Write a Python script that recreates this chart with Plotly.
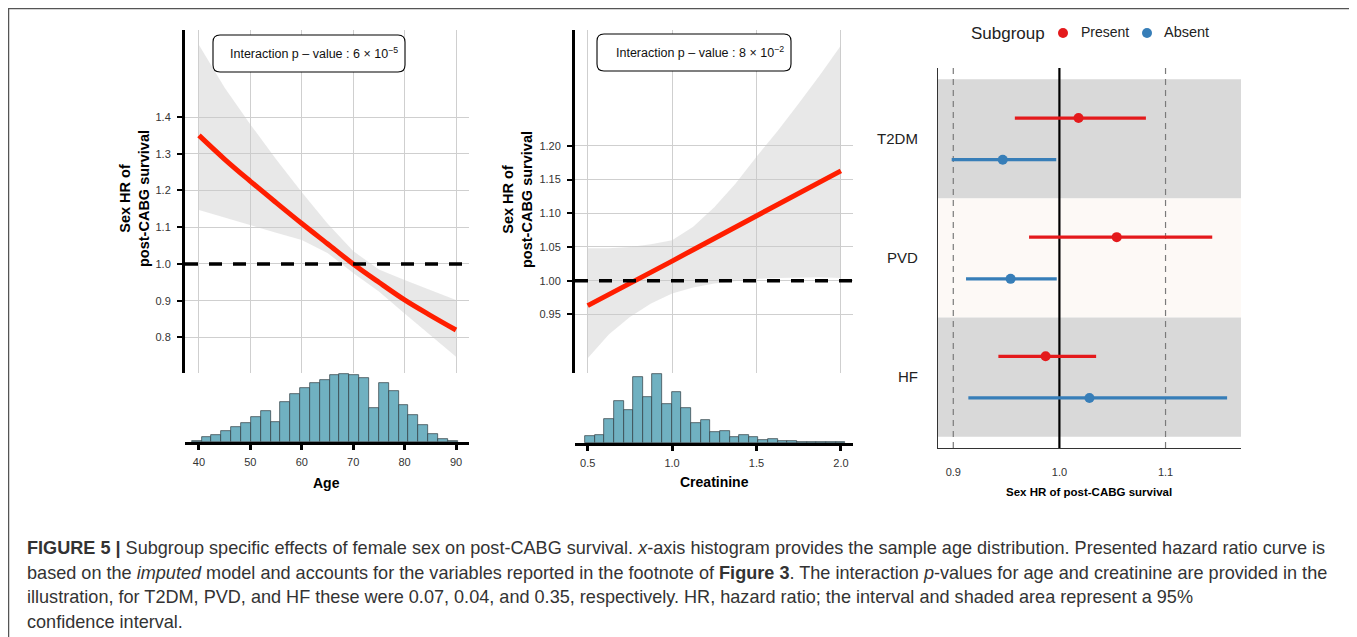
import numpy as np
import plotly.graph_objects as go

W, H = 1357, 637
OFF = 8  # page margin offset of the reference screenshot

# ---------------- data ----------------
age = [40, 45, 50, 55, 60, 65, 70, 75, 80, 85, 90]
age_hr = [1.350, 1.285, 1.225, 1.167, 1.110, 1.055, 1.000, 0.950, 0.902, 0.860, 0.820]
age_upper = [1.596, 1.48, 1.38, 1.285, 1.195, 1.11, 1.035, 0.985, 0.956, 0.93, 0.902]
age_lower = [1.147, 1.125, 1.105, 1.085, 1.065, 1.03, 0.975, 0.925, 0.865, 0.805, 0.747]

creat = [0.5, 0.625, 0.75, 0.875, 1.0, 1.125, 1.25, 1.375, 1.5, 1.625, 1.75, 1.875, 2.0]
creat_hr = [0.963, 0.979, 0.995, 1.012, 1.029, 1.046, 1.063, 1.080, 1.097, 1.113, 1.130, 1.146, 1.163]
creat_upper = [1.048, 1.048, 1.050, 1.054, 1.060, 1.080, 1.109, 1.144, 1.184, 1.222, 1.263, 1.305, 1.349]
creat_lower = [0.885, 0.920, 0.946, 0.966, 0.981, 0.990, 0.996, 1.000, 1.003, 1.004, 1.005, 1.005, 1.004]

age_bin_start, age_bin_width = 38.6, 1.915
age_counts = [3, 15, 22, 32, 44, 56, 74, 93, 59, 121, 144, 162, 179, 186, 203,
              205, 203, 193, 102, 179, 154, 113, 81, 51, 23, 8, 2]

creat_bin_start, creat_bin_width = 0.484, 0.0571
creat_counts = [20, 25, 70, 125, 98, 196, 137, 205, 117, 152, 105, 59, 67, 33, 37,
                18, 24, 17, 8, 11, 5, 7, 3, 3, 3, 2, 2]

subgroups = ["T2DM", "PVD", "HF"]
present_est = [1.018, 1.054, 0.987]
present_lo = [0.958, 0.9714, 0.9425]
present_hi = [1.0815, 1.144, 1.0346]
absent_est = [0.9466, 0.954, 1.0283]
absent_lo = [0.8985, 0.912, 0.9142]
absent_hi = [0.997, 0.9975, 1.158]

age_ticks = [40, 50, 60, 70, 80, 90]
age_hr_ticks = [0.8, 0.9, 1.0, 1.1, 1.2, 1.3, 1.4]
creat_ticks = [0.5, 1.0, 1.5, 2.0]
creat_hr_ticks = [0.95, 1.00, 1.05, 1.10, 1.15, 1.20]
forest_ticks = [0.9, 1.0, 1.1]

# ---------------- helpers ----------------
def fx(p):
    return (p - OFF) / W

def fy(p):
    return 1 - (p - OFF) / H

def bin_centers(start, width, n):
    return [start + width * (i + 0.5) for i in range(n)]

RED = "#FF1E00"
BAND = "rgba(200,200,200,0.42)"
HIST = "#70B1C1"
PRES = "#E41A1C"
ABS = "#377EB8"
FONT = "Liberation Sans, Arial, sans-serif"

fig = go.Figure()

# ---- panel 1 curve ----
fig.add_trace(go.Scatter(x=age + age[::-1], y=age_upper + age_lower[::-1], fill="toself",
                         fillcolor=BAND, line=dict(width=0), mode="lines",
                         hoverinfo="skip", showlegend=False, xaxis="x", yaxis="y"))
fig.add_trace(go.Scatter(x=age, y=age_hr, mode="lines", line=dict(color=RED, width=5, shape="spline"),
                         showlegend=False, xaxis="x", yaxis="y"))
fig.add_trace(go.Bar(x=bin_centers(age_bin_start, age_bin_width, len(age_counts)), y=age_counts,
                     width=age_bin_width, marker=dict(color=HIST, line=dict(color="#2E3B40", width=0.7)),
                     showlegend=False, xaxis="x2", yaxis="y2"))

# ---- panel 2 curve ----
fig.add_trace(go.Scatter(x=creat + creat[::-1], y=creat_upper + creat_lower[::-1], fill="toself",
                         fillcolor=BAND, line=dict(width=0), mode="lines",
                         hoverinfo="skip", showlegend=False, xaxis="x3", yaxis="y3"))
fig.add_trace(go.Scatter(x=creat, y=creat_hr, mode="lines", line=dict(color=RED, width=5),
                         showlegend=False, xaxis="x3", yaxis="y3"))
fig.add_trace(go.Bar(x=bin_centers(creat_bin_start, creat_bin_width, len(creat_counts)), y=creat_counts,
                     width=creat_bin_width, marker=dict(color=HIST, line=dict(color="#2E3B40", width=0.7)),
                     showlegend=False, xaxis="x4", yaxis="y4"))

# ---- forest plot ----
ypos = {"T2DM": 3, "PVD": 2, "HF": 1}
dodge = 0.175
fig.add_trace(go.Scatter(
    x=present_est, y=[ypos[s] + dodge for s in subgroups], mode="markers", name="Present",
    marker=dict(color=PRES, size=10),
    error_x=dict(type="data", symmetric=False,
                 array=[h - e for h, e in zip(present_hi, present_est)],
                 arrayminus=[e - l for e, l in zip(present_est, present_lo)],
                 color=PRES, thickness=3.2, width=0),
    showlegend=False, xaxis="x5", yaxis="y5"))
fig.add_trace(go.Scatter(
    x=absent_est, y=[ypos[s] - dodge for s in subgroups], mode="markers", name="Absent",
    marker=dict(color=ABS, size=10),
    error_x=dict(type="data", symmetric=False,
                 array=[h - e for h, e in zip(absent_hi, absent_est)],
                 arrayminus=[e - l for e, l in zip(absent_est, absent_lo)],
                 color=ABS, thickness=3.2, width=0),
    showlegend=False, xaxis="x5", yaxis="y5"))

# ---------------- axes ----------------
tickfont = dict(family=FONT, size=11, color="#333333")
grid = "#CFCFCF"

p1x = [fx(185), fx(469)]
fig.update_layout(
    xaxis=dict(domain=p1x, range=[37.28, 92.53], tickvals=age_ticks, showticklabels=False,
               showgrid=True, gridcolor=grid, gridwidth=1, zeroline=False, anchor="y", ticks=""),
    yaxis=dict(domain=[fy(373), fy(30)], range=[0.703, 1.637], tickvals=age_hr_ticks,
               ticktext=[f"{v:.1f}" for v in age_hr_ticks], tickfont=tickfont,
               showgrid=True, gridcolor=grid, gridwidth=1, zeroline=False,
               showline=True, linecolor="black", linewidth=3, ticks="outside",
               ticklen=5, tickwidth=2, tickcolor="black", anchor="x", ticklabelstandoff=4),
    xaxis2=dict(domain=p1x, range=[37.28, 92.53], tickvals=age_ticks, tickfont=tickfont,
                showgrid=False, zeroline=False, showline=True, linecolor="black", linewidth=3,
                ticks="outside", ticklen=5, tickwidth=2.5, tickcolor="black", anchor="y2",
                ticklabelstandoff=3),
    yaxis2=dict(domain=[fy(442), fy(370)], range=[0, 217], visible=False, anchor="x2"),
)

p2x = [fx(575), fx(853)]
fig.update_layout(
    xaxis3=dict(domain=p2x, range=[0.4248, 2.0717], tickvals=creat_ticks, showticklabels=False,
                showgrid=True, gridcolor=grid, gridwidth=1, zeroline=False, anchor="y3", ticks=""),
    yaxis3=dict(domain=[fy(373), fy(30)], range=[0.863, 1.372], tickvals=creat_hr_ticks,
                ticktext=[f"{v:.2f}" for v in creat_hr_ticks], tickfont=tickfont,
                showgrid=True, gridcolor=grid, gridwidth=1, zeroline=False,
                showline=True, linecolor="black", linewidth=3, ticks="outside",
                ticklen=5, tickwidth=2, tickcolor="black", anchor="x3", ticklabelstandoff=4),
    xaxis4=dict(domain=p2x, range=[0.4248, 2.0717], tickvals=creat_ticks,
                ticktext=[f"{v:.1f}" for v in creat_ticks], tickfont=tickfont,
                showgrid=False, zeroline=False, showline=True, linecolor="black", linewidth=3,
                ticks="outside", ticklen=5, tickwidth=2.5, tickcolor="black", anchor="y4",
                ticklabelstandoff=3),
    yaxis4=dict(domain=[fy(443), fy(370)], range=[0, 217], visible=False, anchor="x4"),
)

fig.update_layout(
    xaxis5=dict(domain=[fx(938), fx(1241)], range=[0.8856, 1.1711], tickvals=forest_ticks,
                ticktext=["0.9", "1.0", "1.1"], tickfont=dict(family=FONT, size=11, color="#333333"),
                showgrid=False, zeroline=False, showline=True, linecolor="#333333", linewidth=1.2,
                ticks="", anchor="y5", ticklabelstandoff=14),
    yaxis5=dict(domain=[fy(448), fy(68)], range=[0.405, 3.595],
                tickvals=[ypos[s] for s in subgroups], ticktext=subgroups,
                tickfont=dict(family=FONT, size=15, color="#222222"),
                showgrid=False, zeroline=False, showline=True, linecolor="#333333", linewidth=1.2,
                ticks="", anchor="x5", ticklabelstandoff=16),
)

shapes = []
band_colors = {"T2DM": "#D9D9D9", "PVD": "#FDF9F6", "HF": "#D9D9D9"}
for s in subgroups:
    shapes.append(dict(type="rect", xref="x5 domain", yref="y5", x0=0, x1=1,
                       y0=ypos[s] - 0.5, y1=ypos[s] + 0.5, fillcolor=band_colors[s],
                       line=dict(width=0), layer="below"))
for v in [0.9, 1.1]:
    shapes.append(dict(type="line", xref="x5", yref="y5 domain", x0=v, x1=v, y0=0, y1=1,
                       line=dict(color="#7A7A7A", width=1.2, dash="6px,5px"), layer="below"))
shapes.append(dict(type="line", xref="x5", yref="y5 domain", x0=1.0, x1=1.0, y0=0, y1=1,
                   line=dict(color="black", width=2.2), layer="below"))

for xr, yr in [("x", "y"), ("x3", "y3")]:
    shapes.append(dict(type="line", xref=f"{xr} domain", yref=yr, x0=0, x1=1, y0=1.0, y1=1.0,
                       line=dict(color="black", width=3.5, dash="13px,11px")))


def rrect(x0, y0, x1, y1, r):
    pts = [
        ("M", [(x0 + r, y0)]), ("L", [(x1 - r, y0)]), ("Q", [(x1, y0), (x1, y0 + r)]),
        ("L", [(x1, y1 - r)]), ("Q", [(x1, y1), (x1 - r, y1)]), ("L", [(x0 + r, y1)]),
        ("Q", [(x0, y1), (x0, y1 - r)]), ("L", [(x0, y0 + r)]), ("Q", [(x0, y0), (x0 + r, y0)]),
    ]
    out = ""
    for cmd, ps in pts:
        out += cmd + " " + " ".join(f"{fx(a):.5f},{fy(b):.5f}" for a, b in ps) + " "
    return out + "Z"


shapes.append(dict(type="path", xref="paper", yref="paper", path=rrect(213, 35, 405, 72, 7),
                   line=dict(color="black", width=1.1), fillcolor="white"))
shapes.append(dict(type="path", xref="paper", yref="paper", path=rrect(597, 34, 791, 71, 7),
                   line=dict(color="black", width=1.1), fillcolor="white"))
# legend keys
for cx, col in [(1063, PRES), (1147, ABS)]:
    shapes.append(dict(type="circle", xref="paper", yref="paper",
                       x0=fx(cx - 5), x1=fx(cx + 5), y0=fy(33 + 5), y1=fy(33 - 5),
                       fillcolor=col, line=dict(width=0)))
# outer frame
shapes.append(dict(type="rect", xref="paper", yref="paper", x0=fx(8.5), x1=fx(1354.5),
                   y0=fy(660), y1=fy(8.5), line=dict(color="#555555", width=1.5)))

annotations = []


def txt(x, y, text, font, xanchor="center", **kw):
    annotations.append(dict(x=fx(x), y=fy(y), xref="paper", yref="paper", showarrow=False,
                            text=text, font=font, xanchor=xanchor, yanchor="middle", **kw))


ann_font = dict(family=FONT, size=12.5, color="#111111")
txt(314, 53, "Interaction p \u2013 value : 6 \u00d7 10<sup>\u22125</sup>", ann_font)
txt(700, 52, "Interaction p \u2013 value : 8 \u00d7 10<sup>\u22122</sup>", ann_font)

ytitle_font = dict(family=FONT, size=14.5, color="black")
for xc, yc in [(134, 199), (518, 200)]:
    txt(xc, yc, "<b>Sex HR of<br>post-CABG survival</b>", ytitle_font, textangle=-90)
txt(326, 483, "<b>Age</b>", dict(family=FONT, size=14, color="black"))
txt(714, 482, "<b>Creatinine</b>", dict(family=FONT, size=14, color="black"))
txt(1089, 492, "<b>Sex HR of post-CABG survival</b>", dict(family=FONT, size=11.5, color="black"))

txt(969, 33, "Subgroup", dict(family=FONT, size=17, color="#222222"), xanchor="left")
txt(1079, 32, "Present", dict(family=FONT, size=14, color="#222222"), xanchor="left")
txt(1162, 32, "Absent", dict(family=FONT, size=14.5, color="#222222"), xanchor="left")

cap_font = dict(family="Liberation Sans, Arial", size=18.1, color="#333333")
caption = [
    "<b>FIGURE 5 |</b> Subgroup specific effects of female sex on post-CABG survival. <i>x</i>-axis histogram provides the sample age distribution. Presented hazard ratio curve is",
    "based on the <i>imputed</i> model and accounts for the variables reported in the footnote of <b>Figure 3</b>. The interaction <i>p</i>-values for age and creatinine are provided in the",
    "illustration, for T2DM, PVD, and HF these were 0.07, 0.04, and 0.35, respectively. HR, hazard ratio; the interval and shaded area represent a 95%",
    "confidence interval.",
]
for i, line in enumerate(caption):
    txt(25, 548 + 24.7 * i, line, cap_font, xanchor="left", align="left")

fig.update_layout(
    width=W, height=H, margin=dict(l=0, r=0, t=0, b=0),
    paper_bgcolor="white", plot_bgcolor="rgba(0,0,0,0)",
    bargap=0, shapes=shapes, annotations=annotations,
    font=dict(family=FONT, color="#333333"),
    showlegend=False,
)

fig.write_html("out.html")
